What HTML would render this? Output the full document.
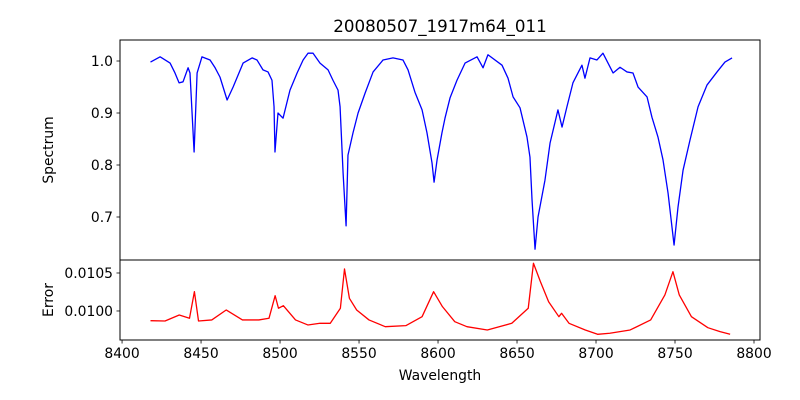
<!DOCTYPE html>
<html><head><meta charset="utf-8"><style>
html,body{margin:0;padding:0;background:#fff;}
svg{display:block;font-family:"DejaVu Sans","Liberation Sans",sans-serif;}
</style></head><body>
<svg id="chart" width="800" height="400" viewBox="0 0 800 400"></svg>
<script>
const specWl=[8418,8424.1,8430.4,8433.5,8436.1,8438.6,8441.8,8443.0,8445.6,8447.5,8450.6,8455.7,8458.9,8462.0,8466.5,8470.3,8476.6,8482.3,8485.4,8489.2,8492.4,8494.9,8496.2,8496.8,8498.7,8501.9,8506.3,8510.8,8514.6,8517.7,8520.9,8525.3,8530.4,8533.5,8536.7,8538.0,8539.9,8541.8,8543.0,8546.2,8549.4,8553.8,8558.9,8565.2,8571.5,8577.8,8581.0,8585.4,8589.9,8593.0,8596.2,8597.5,8599.4,8602.5,8604.4,8607.6,8612.0,8617.1,8624.7,8628.5,8631.6,8640.5,8644.3,8647.5,8651.9,8656.3,8658.2,8659.5,8661.4,8663.3,8667.7,8670.9,8675.9,8678.5,8681.6,8685.4,8691.1,8693.0,8696.2,8700.6,8704.4,8710.8,8715.2,8719.6,8723.4,8726.6,8732.3,8735.4,8739.2,8742.4,8745.6,8749.4,8751.9,8755.1,8759.5,8764.6,8770.3,8776.6,8781.6,8786.1];
const specFlux=[0.998,1.008,0.996,0.977,0.958,0.960,0.987,0.977,0.825,0.977,1.008,1.002,0.987,0.969,0.925,0.950,0.996,1.006,1.002,0.983,0.979,0.963,0.912,0.825,0.900,0.890,0.944,0.977,1.002,1.015,1.015,0.996,0.983,0.963,0.944,0.912,0.785,0.683,0.819,0.862,0.900,0.938,0.979,1.002,1.006,1.002,0.983,0.940,0.906,0.862,0.804,0.767,0.810,0.862,0.890,0.929,0.963,0.996,1.008,0.987,1.012,0.992,0.967,0.931,0.910,0.854,0.815,0.733,0.638,0.700,0.771,0.842,0.906,0.873,0.912,0.958,0.992,0.967,1.006,1.002,1.015,0.977,0.988,0.979,0.977,0.950,0.931,0.892,0.854,0.810,0.746,0.646,0.719,0.790,0.848,0.912,0.954,0.979,0.998,1.006];
const errWl=[8418,8427.2,8436.2,8442.7,8445.8,8448.4,8456.8,8465.9,8476.2,8486.6,8493.0,8496.9,8499.0,8502.1,8509.8,8517.6,8525.3,8531.8,8538.2,8540.8,8543.9,8548.5,8556.3,8566.6,8579.6,8589.9,8597.2,8602.8,8610.6,8618.3,8631.2,8646.7,8657.1,8660.4,8664.8,8670.0,8676.5,8678.2,8682.9,8693.2,8701.0,8708.7,8721.6,8734.6,8743.6,8748.7,8752.7,8760.4,8770.8,8778.5,8784.9];
const errVal=[0.009872,0.009868,0.009947,0.009904,0.010254,0.009868,0.009882,0.010013,0.009882,0.009882,0.009904,0.010201,0.010036,0.010070,0.009882,0.009816,0.009838,0.009838,0.010036,0.010553,0.010167,0.010013,0.009882,0.009793,0.009807,0.009925,0.010254,0.010057,0.009859,0.009793,0.009750,0.009838,0.010036,0.010628,0.010386,0.010122,0.009925,0.009970,0.009838,0.009750,0.009693,0.009707,0.009750,0.009882,0.010211,0.010517,0.010211,0.009925,0.009780,0.009728,0.009693];
const xTicks=[8400,8450,8500,8550,8600,8650,8700,8750,8800];
const specTicks=[0.7,0.8,0.9,1.0];
const specTickLabels=["0.7","0.8","0.9","1.0"];
const errTicks=[0.0100,0.0105];
const errTickLabels=["0.0100","0.0105"];

const NS="http://www.w3.org/2000/svg";
const svg=document.getElementById('chart');
const L=120,R=760,T1=40,B1=260,T2=260,B2=340;
const xMin=8398.7,xMax=8803.8;
const x=v=>L+(v-xMin)/(xMax-xMin)*(R-L);
const y1=v=>T1+(1.0404-v)/(1.0404-0.6173)*(B1-T1);
const y2=v=>T2+(0.010671-v)/(0.010671-0.009618)*(B2-T2);
function mk(tag,attrs,parent){const e=document.createElementNS(NS,tag);for(const k in attrs)e.setAttribute(k,attrs[k]);(parent||svg).appendChild(e);return e;}

// series
let d=specWl.map((w,i)=>(i?'L':'M')+x(w).toFixed(2)+','+y1(specFlux[i]).toFixed(2)).join('');
const sp=mk('path',{d:d,fill:'none',stroke:'#0000ff','stroke-width':1.3,'stroke-linejoin':'round'});


d=errWl.map((w,i)=>(i?'L':'M')+x(w).toFixed(2)+','+y2(errVal[i]).toFixed(2)).join('');
const ep=mk('path',{d:d,fill:'none',stroke:'#ff0000','stroke-width':1.3,'stroke-linejoin':'round'});



// frames
const f1=mk('rect',{x:L,y:T1,width:R-L,height:B1-T1,fill:'none',stroke:'#000','stroke-width':1});


const f2=mk('rect',{x:L,y:T2,width:R-L,height:B2-T2,fill:'none',stroke:'#000','stroke-width':1});



// x ticks
xTicks.forEach(t=>{const px=x(t);
 mk('line',{x1:px,x2:px,y1:B2,y2:B2+3.5,stroke:'#000','stroke-width':0.8});
 const tx=mk('text',{x:px,y:B2+18,'font-size':13.9,'text-anchor':'middle',fill:'#000'});tx.textContent=String(t);
 
 
});
specTicks.forEach((t,i)=>{const py=y1(t);
 mk('line',{x1:L-3.5,x2:L,y1:py,y2:py,stroke:'#000','stroke-width':0.8});
 const tx=mk('text',{x:L-7,y:py+5,'font-size':13.9,'text-anchor':'end',fill:'#000'});tx.textContent=specTickLabels[i];
 
 
});
errTicks.forEach((t,i)=>{const py=y2(t);
 mk('line',{x1:L-3.5,x2:L,y1:py,y2:py,stroke:'#000','stroke-width':0.8});
 const tx=mk('text',{x:L-7,y:py+5,'font-size':13.9,'text-anchor':'end',fill:'#000'});tx.textContent=errTickLabels[i];
 
 
});
</script>
<script>
(function(){const NS="http://www.w3.org/2000/svg";const svg=document.getElementById('chart');
function t(txt,a,name){const e=document.createElementNS(NS,'text');for(const k in a)e.setAttribute(k,a[k]);e.textContent=txt;svg.appendChild(e);

}
t('20080507_1917m64_011',{x:440,y:32,'font-size':16.7,'text-anchor':'middle'},'chart-title');
t('Wavelength',{x:440,y:380,'font-size':13.9,'text-anchor':'middle'},'x-axis-title');
t('Spectrum',{x:53,y:150,'font-size':13.9,'text-anchor':'middle',transform:'rotate(-90 53 150)'},'spectrum-y-axis-title');
t('Error',{x:53,y:300,'font-size':13.9,'text-anchor':'middle',transform:'rotate(-90 53 300)'},'error-y-axis-title');
})();
</script>
</body></html>
